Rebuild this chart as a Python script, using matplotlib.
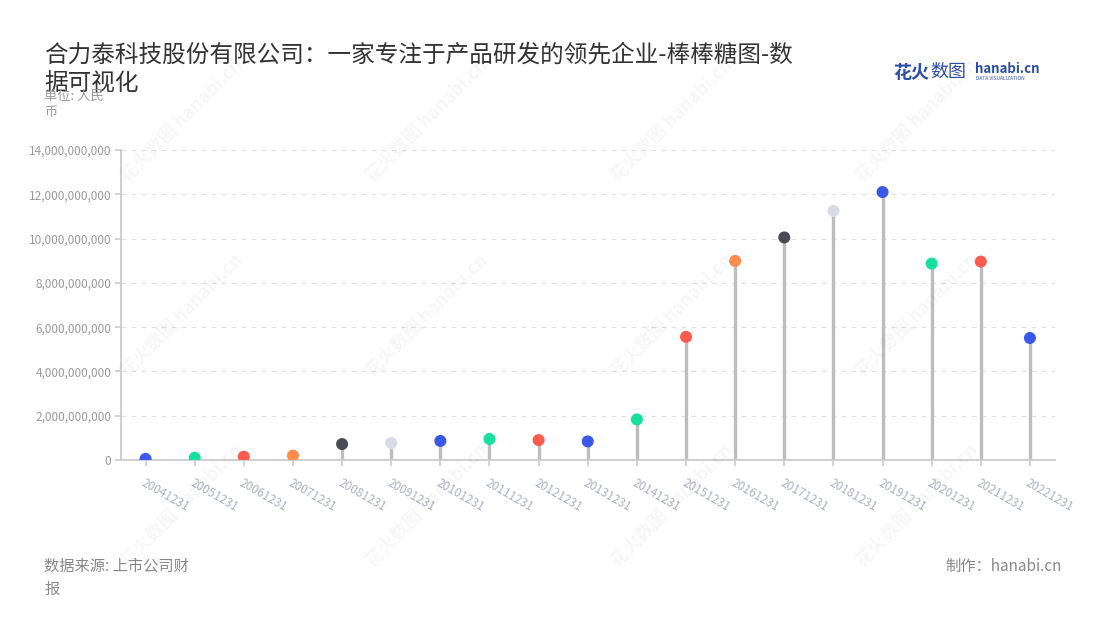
import numpy as np
import matplotlib
matplotlib.use('Agg')
import matplotlib.pyplot as plt

plt.rcParams['font.family'] = ['Noto Sans CJK SC', 'DejaVu Sans']

# data: year-end report dates and values (RMB)
dates = ['20041231', '20051231', '20061231', '20071231', '20081231', '20091231',
         '20101231', '20111231', '20121231', '20131231', '20141231', '20151231',
         '20161231', '20171231', '20181231', '20191231', '20201231', '20211231',
         '20221231']
values = [0.05e9, 0.10e9, 0.15e9, 0.20e9, 0.72e9, 0.77e9,
          0.86e9, 0.95e9, 0.90e9, 0.84e9, 1.83e9, 5.56e9,
          8.99e9, 10.05e9, 11.25e9, 12.10e9, 8.87e9, 8.96e9,
          5.51e9]
dot_colors = ['#3a59ec', '#17e09d', '#ff5a4e', '#ff8b4d', '#4b4b55', '#d9dce6',
              '#3a59ec', '#17e09d', '#ff5a4e', '#3a59ec', '#17e09d', '#ff5a4e',
              '#ff8b4d', '#4b4b55', '#d9dce6', '#3a59ec', '#17e09d', '#ff5a4e',
              '#3a59ec']
y_ticks = [0, 2e9, 4e9, 6e9, 8e9, 10e9, 12e9, 14e9]

fig = plt.figure(figsize=(11, 6.2), dpi=100)
ax = fig.add_axes([121 / 1100, 1 - 460 / 620, (1054.5 - 121) / 1100, 310 / 620])

x = np.arange(len(dates))
ax.vlines(x, 0, values, color='#bdbdbd', linewidth=2.4, zorder=2)
ax.scatter(x, values, s=75, c=dot_colors, zorder=3, linewidths=0)

ax.set_xlim(-0.5, len(dates) - 0.5)
ax.set_ylim(0, 14e9)
ax.set_yticks(y_ticks)
ax.set_yticklabels([f'{int(v):,}' for v in y_ticks])
ax.set_xticks(x)
ax.set_xticklabels(dates, rotation=-30, ha='left', va='top', rotation_mode='anchor')

ax.grid(axis='y', color='#e0e0e0', linestyle=(0, (4, 4)), linewidth=0.9, zorder=0)
for side in ['top', 'right']:
    ax.spines[side].set_visible(False)
for side in ['left', 'bottom']:
    ax.spines[side].set_color('#cccccc')
    ax.spines[side].set_linewidth(1.3)
ax.tick_params(axis='y', colors='#cccccc', labelcolor='#999999', labelsize=8.5,
               length=4, width=1.2, pad=3)
ax.tick_params(axis='x', colors='#cccccc', labelcolor='#aab0c2', labelsize=8.5,
               length=4, width=1.2, pad=8)

# title and annotations
fig.text(44 / 1100, 1 - 44 / 620,
         '合力泰科技股份有限公司：一家专注于产品研发的领先企业-棒棒糖图-数\n据可视化',
         fontsize=17, color='#333333', ha='left', va='top', linespacing=1.3)
fig.text(44 / 1100, 1 - 90 / 620, '单位: 人民\n币', fontsize=9.5, color='#999999',
         ha='left', va='top', linespacing=1.3)
fig.text(44 / 1100, 1 - 558 / 620, '数据来源: 上市公司财\n报', fontsize=11, color='#888888',
         ha='left', va='top', linespacing=1.45)
fig.text(1062 / 1100, 1 - 558 / 620, '制作：hanabi.cn', fontsize=11, color='#888888',
         ha='right', va='top')

# logo
fig.text(893 / 1100, 1 - 72 / 620, '花火', fontsize=13, fontweight='bold', color='#2a4ea6',
         ha='left', va='center')
fig.text(930 / 1100, 1 - 72 / 620, '数图', fontsize=13, color='#2a4ea6',
         ha='left', va='center')
fig.text(975 / 1100, 1 - 69 / 620, 'hanabi.cn', fontsize=9.5, fontweight='bold',
         color='#2a4ea6', ha='left', va='center')
fig.text(976 / 1100, 1 - 79 / 620, 'DATA VISUALIZATION', fontsize=3.5, color='#2a4ea6',
         ha='left', va='center')

# faint watermarks
for wx in [130, 375, 620, 865]:
    for wy in [185, 380, 570]:
        fig.text(wx / 1100, 1 - wy / 620, '花火数图 hanabi.cn', fontsize=13,
                 fontweight='bold', color='#000000', alpha=0.035, rotation=45,
                 rotation_mode='anchor', ha='left', va='bottom', zorder=0)

fig.savefig('out.png', dpi=100, facecolor='white')
